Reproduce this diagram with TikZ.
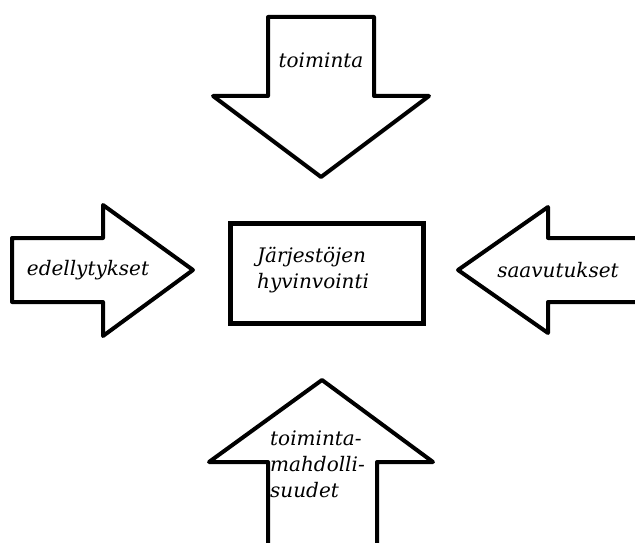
\documentclass[tikz,border=0pt]{standalone}
\usepackage{fontspec}
\setmainfont{DejaVu Serif}
\usetikzlibrary{positioning}
\tikzset{
    bigarrow/.style={line width=4pt, line join=round, draw=black, fill=white},
    arrowtext/.style={font=\itshape\fontsize{20}{26}\selectfont, inner sep=0pt, align=left},
}

\begin{document}
\begin{tikzpicture}[x=1pt,y=-1pt]
\useasboundingbox (0,0) rectangle (635,543);

% toiminta (ylhaalta)
\draw [bigarrow] (268,17) -- (374,17) -- (374,96) -- (429,96) -- (321,177) -- (213,96) -- (268,96) -- cycle;
\node [arrowtext] (toiminta) at (321,60) {toiminta};

% edellytykset (vasemmalta)
\draw [bigarrow] (12,238) -- (103,238) -- (103,205) -- (193,270) -- (103,336) -- (103,302) -- (12,302) -- cycle;
\node [arrowtext] (edellytykset) at (88,270) {edellytykset};

% saavutukset (oikealta)
\draw [bigarrow] (640,238) -- (548,238) -- (548,207) -- (458,270) -- (548,333) -- (548,302) -- (640,302);
\node [arrowtext] (saavutukset) at (558,270) {saavutukset};

% toimintamahdollisuudet (alhaalta)
\draw [bigarrow] (268,548) -- (268,462) -- (209,462) -- (322,380) -- (433,462) -- (377,462) -- (377,548);
\node [arrowtext, anchor=west] (mahdollisuudet) at (270,464) {toiminta-\\mahdolli-\\suudet};

% keskella
\draw [line width=5pt, fill=white] (230,223) rectangle (423,323);
\node [arrowtext, anchor=west] (hyvinvointi) at (257,270) {Järjestöjen\\hyvinvointi};

\end{tikzpicture}
\end{document}
